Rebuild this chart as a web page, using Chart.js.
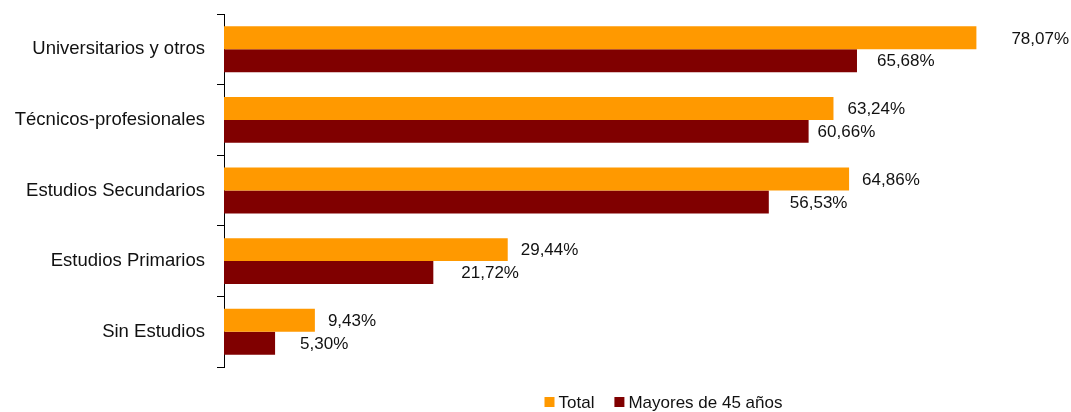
<!DOCTYPE html>
<html>
<head>
<meta charset="utf-8">
<script src="https://cdn.jsdelivr.net/npm/chart.js@4/dist/chart.umd.min.js"></script>
<style>
  html, body { margin: 0; padding: 0; background: #fff; }
  #wrap { width: 1071px; height: 412px; }
</style>
</head>
<body>
<div id="wrap"><canvas id="myChart"></canvas></div>
<script>
const categories = ['Universitarios y otros', 'Técnicos-profesionales', 'Estudios Secundarios', 'Estudios Primarios', 'Sin Estudios'];
const totalValues = [78.07, 63.24, 64.86, 29.44, 9.43];
const mayoresValues = [65.68, 60.66, 56.53, 21.72, 5.30];
const seriesNames = ['Total', 'Mayores de 45 años'];
const seriesColors = ['#FF9900', '#800000'];

// gap between bar end and its label (labels were nudged by hand in the original)
const labelGaps = [[35, 14, 13, 13, 13], [20, 9, 21, 28, 25]];

const FONT = '"Liberation Sans", Arial, sans-serif';
const ctx = document.getElementById('myChart');

const valueLabels = {
  id: 'valueLabels',
  afterDatasetsDraw(chart) {
    const c = chart.ctx;
    c.save();
    c.font = '17px ' + FONT;
    c.fillStyle = '#111';
    c.textAlign = 'left';
    c.textBaseline = 'middle';
    chart.data.datasets.forEach((ds, di) => {
      chart.getDatasetMeta(di).data.forEach((bar, i) => {
        const txt = ds.data[i].toFixed(2).replace('.', ',') + '%';
        c.fillText(txt, bar.x + labelGaps[di][i], bar.y + 1);
      });
    });
    c.restore();
  }
};

const bottomLegend = {
  id: 'bottomLegend',
  afterDraw(chart) {
    const c = chart.ctx;
    const area = chart.chartArea;
    c.save();
    c.font = '17px ' + FONT;
    c.textBaseline = 'middle';
    const box = 10, gapBox = 4, gapItem = 20;
    let w = 0;
    chart.data.datasets.forEach((ds, i) => {
      w += box + gapBox + c.measureText(ds.label).width;
      if (i > 0) w += gapItem;
    });
    let x = area.left + area.width * 0.57 - w / 2;
    const y = area.bottom + 35;
    chart.data.datasets.forEach((ds) => {
      c.fillStyle = ds.backgroundColor;
      c.fillRect(x, y - 5, box, box);
      x += box + gapBox;
      c.fillStyle = '#111';
      c.fillText(ds.label, x, y + 1);
      x += c.measureText(ds.label).width + gapItem;
    });
    c.restore();
  }
};

new Chart(ctx, {
  type: 'bar',
  data: {
    labels: categories,
    datasets: [
      {
        label: seriesNames[0],
        data: totalValues,
        backgroundColor: seriesColors[0],
        barPercentage: 1,
        categoryPercentage: 0.65
      },
      {
        label: seriesNames[1],
        data: mayoresValues,
        backgroundColor: seriesColors[1],
        barPercentage: 1,
        categoryPercentage: 0.65
      }
    ]
  },
  options: {
    indexAxis: 'y',
    responsive: true,
    maintainAspectRatio: false,
    animation: false,
    layout: {
      padding: { top: 14, left: 10, right: 76, bottom: 45 }
    },
    plugins: {
      legend: { display: false },
      tooltip: { enabled: false }
    },
    scales: {
      x: {
        display: false,
        min: 0,
        max: 80
      },
      y: {
        afterFit(scale) {
          scale.width = 214;
          scale.paddingTop = 0;
          scale.paddingBottom = 0;
        },
        border: { display: true, color: '#000', width: 1 },
        grid: {
          display: true,
          drawOnChartArea: false,
          drawTicks: true,
          tickLength: 7,
          color: '#000',
          offset: true
        },
        ticks: {
          color: '#111',
          padding: 12,
          font: { family: FONT, size: 18.5 }
        }
      }
    }
  },
  plugins: [valueLabels, bottomLegend]
});
</script>
</body>
</html>
